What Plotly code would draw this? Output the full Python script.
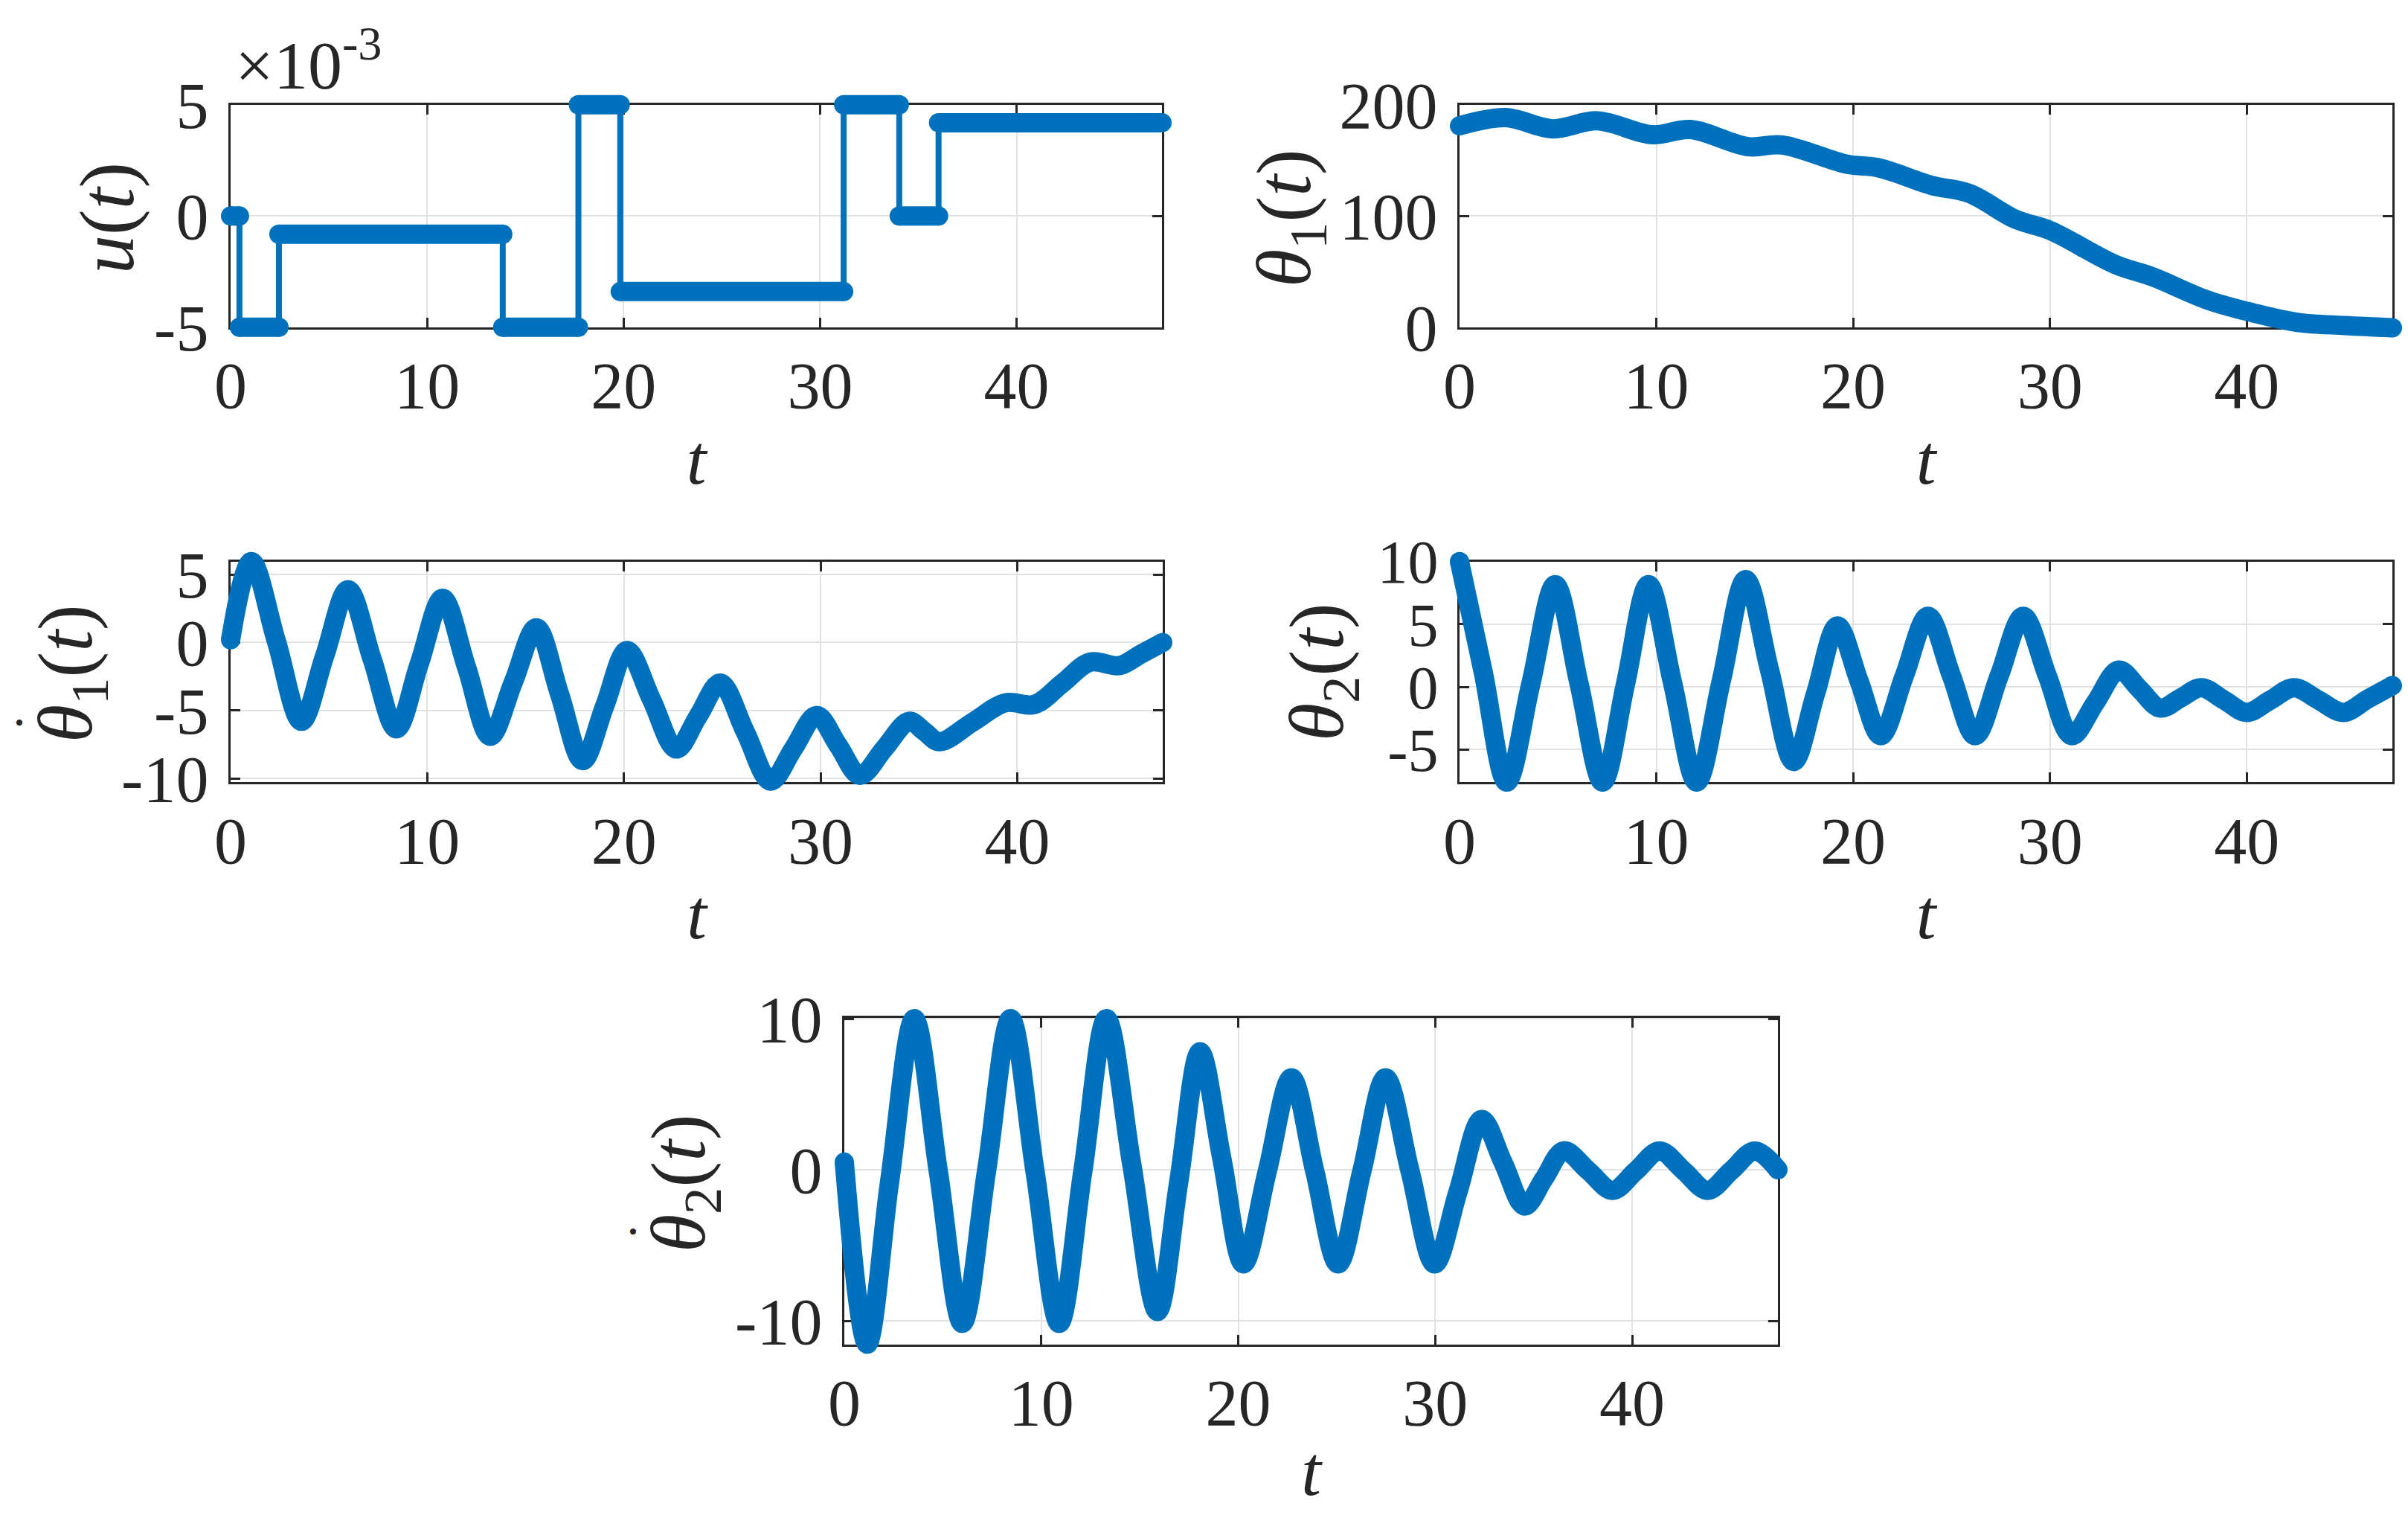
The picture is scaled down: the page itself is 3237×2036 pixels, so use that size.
import plotly.graph_objects as go

W, H = 3237, 2036
BLUE = '#0072BD'
INK = '#262626'
FONT = 'Liberation Serif'
TICK_SIZE = 88
XTITLE_SIZE = 96
YTITLE_SIZE = 104

# ---------------- data ----------------
t_end = 47.4

# u(t): switching times and piecewise-constant levels
u_switch_t = [0.0, 0.45, 2.46, 13.85, 17.7, 19.83, 31.2, 34.03, 36.03, 47.4]
u_level = [0.0, -5.0e-3, -0.82e-3, -5.0e-3, 5.0e-3, -3.4e-3, 5.0e-3, 0.0, 4.19e-3]

# theta_1(t)
th1_t = [0.0, 2.33, 4.74, 7.0, 9.8, 11.74, 14.65, 16.4, 19.7, 21.25, 23.98, 25.9,
         28.25, 30.0, 33.3, 35.25, 37.97, 40.3, 42.6, 45.0, 47.4]
th1_v = [181, 188.4, 178.3, 185.5, 173, 177.7, 162.3, 163.8, 146.4, 143.5, 127.5, 120.3,
         97, 87, 56.5, 45, 24.6, 13, 4.3, 1.5, -0.5]

# theta_1 dot(t)
dth1_t = [0, 1.05, 2.33, 3.6, 4.79, 5.97, 7.2, 8.43, 9.6, 10.78, 12.0, 13.2, 14.38, 15.55,
          16.73, 17.9, 19.03, 20.16, 21.41, 22.66, 23.78, 24.9, 26.18, 27.46, 28.63, 29.8,
          30.9, 32.0, 33.25, 34.5, 35.28, 36.05, 37.73, 39.4, 40.9, 42.3, 43.7, 45.2, 46.3, 47.4]
dth1_v = [0.2, 5.95, 0.08, -5.8, -0.96, 3.88, -1.24, -6.35, -1.55, 3.25, -1.83, -6.9, -2.91, 1.08,
          -3.81, -8.7, -4.65, -0.6, -4.22, -7.84, -5.42, -2.99, -6.6, -10.2, -7.79, -5.37,
          -7.58, -9.78, -7.79, -5.8, -6.55, -7.3, -5.87, -4.44, -4.55, -3.0, -1.45, -1.7, -0.85, 0.0]

# theta_2(t)
th2_t = [0, 1.2, 2.4, 3.63, 4.86, 6.07, 7.27, 8.44, 9.6, 10.83, 12.05, 13.3, 14.54, 15.76,
         16.98, 18.09, 19.2, 20.3, 21.4, 22.6, 23.8, 25.0, 26.2, 27.42, 28.64, 29.87, 31.1,
         32.3, 33.5, 34.55, 35.6, 36.65, 37.7, 38.85, 40.0, 41.2, 42.4, 43.65, 44.9, 46.15, 47.4]
th2_v = [10.0, 1.2, -7.6, 0.28, 8.15, 0.28, -7.6, 0.28, 8.15, 0.28, -7.6, 0.48, 8.55, 1.3,
         -5.96, -0.55, 4.86, 0.48, -3.9, 0.87, 5.63, 0.87, -3.9, 0.87, 5.63, 0.87, -3.9,
         -1.28, 1.34, -0.18, -1.69, -0.88, -0.07, -1.06, -2.04, -1.06, -0.07, -1.06, -2.04, -0.97, 0.1]

# theta_2 dot(t)
dth2_t = [0, 1.16, 2.3, 3.55, 4.77, 5.99, 7.22, 8.44, 9.68, 10.91, 12.11, 13.31, 14.6, 15.9,
          16.98, 18.06, 19.16, 20.26, 21.48, 22.7, 23.88, 25.07, 26.28, 27.48, 28.72, 29.97,
          31.16, 32.36, 33.45, 34.54, 35.53, 36.53, 37.77, 39.0, 40.2, 41.39, 42.61, 43.83,
          45.03, 46.24, 47.4]
dth2_v = [0.5, -11.55, -0.78, 10.0, -0.09, -10.17, -0.09, 10.0, -0.09, -10.17, -0.09, 10.0, 0.31,
          -9.38, -0.79, 7.81, 0.79, -6.23, -0.07, 6.09, -0.07, -6.23, -0.07, 6.09, -0.07, -6.23,
          -1.45, 3.33, 0.47, -2.4, -0.58, 1.25, -0.06, -1.36, -0.06, 1.25, -0.06, -1.36,
          -0.06, 1.25, 0.0]

x_ticks = [0, 10, 20, 30, 40]
x_ticktext = ['0', '10', '20', '30', '40']

# ---------------- layout of panels (pixel boxes) ----------------
panels = [
    dict(box=(302, 1554, 132.7, 431.7), yr=(-0.005, 0.005),
         yt=[-0.005, 0, 0.005], ytt=['-5', '0', '5'], ytsize=TICK_SIZE, xst=17,
         title='<i>u</i>(<i>t</i>)', tpos=(136, 285), dot=None),
    dict(box=(1954, 3208, 132.7, 431.7), yr=(0, 200),
         yt=[0, 100, 200], ytt=['0', '100', '200'], ytsize=TICK_SIZE, xst=17,
         title='<i>θ</i><sub>1</sub>(<i>t</i>)', tpos=(1725, 285), dot=None),
    dict(box=(302, 1555, 746.7, 1043), yr=(-10.27, 5.95),
         yt=[-10, -5, 0, 5], ytt=['-10', '-5', '0', '5'], ytsize=TICK_SIZE, xst=17,
         title='<i>θ</i><sub>1</sub>(<i>t</i>)', tpos=(87, 897), dot=(18, 963)),
    dict(box=(1954, 3208, 746.7, 1043), yr=(-7.6, 10.0),
         yt=[-5, 0, 5, 10], ytt=['-5', '0', '5', '10'], ytsize=82, xst=17,
         title='<i>θ</i><sub>2</sub>(<i>t</i>)', tpos=(1769, 895), dot=None),
    dict(box=(1127, 2382, 1360, 1798.5), yr=(-11.55, 10.05),
         yt=[-10, 0, 10], ytt=['-10', '0', '10'], ytsize=TICK_SIZE, xst=9,
         title='<i>θ</i><sub>2</sub>(<i>t</i>)', tpos=(911, 1582), dot=(843, 1647)),
]
PAD = 24  # px: data area extends beyond the box so thick lines are not cut

fig = go.Figure()
layout = {}
annotations = []


def axname(kind, i):
    return kind + 'axis' + ('' if i == 1 else str(i))


def ref(kind, i):
    return kind + ('' if i == 1 else str(i))


for k, p in enumerate(panels):
    b = 2 * k + 1
    d = 2 * k + 2
    x0, x1, y0, y1 = p['box']
    xr = (0, t_end)
    yr = p['yr']
    dom_x = [x0 / W, x1 / W]
    dom_y = [1 - y1 / H, 1 - y0 / H]
    sx = (xr[1] - xr[0]) / (x1 - x0)
    sy = (yr[1] - yr[0]) / (y1 - y0)
    common = dict(showline=True, mirror='ticks', linecolor=INK, linewidth=3,
                  ticks='inside', ticklen=13, tickwidth=3, tickcolor=INK,
                  showgrid=True, gridcolor='#e2e2e2', gridwidth=2, zeroline=False,
                  fixedrange=True, automargin=False)
    layout[axname('x', b)] = dict(domain=dom_x, range=list(xr), anchor=ref('y', b),
                                  tickvals=x_ticks, ticktext=x_ticktext,
                                  tickfont=dict(family=FONT, size=TICK_SIZE, color=INK),
                                  title=dict(text='<i>t</i>', standoff=p['xst'],
                                             font=dict(family=FONT, size=XTITLE_SIZE, color=INK)),
                                  **common)
    layout[axname('y', b)] = dict(domain=dom_y, range=list(yr), anchor=ref('x', b),
                                  tickvals=p['yt'], ticktext=p['ytt'],
                                  tickfont=dict(family=FONT, size=p['ytsize'], color=INK),
                                  ticklabelstandoff=9,
                                  **common)
    layout[axname('x', d)] = dict(domain=[(x0 - PAD) / W, (x1 + PAD) / W],
                                  range=[xr[0] - PAD * sx, xr[1] + PAD * sx],
                                  anchor=ref('y', d), visible=False, fixedrange=True,
                                  automargin=False)
    layout[axname('y', d)] = dict(domain=[1 - (y1 + PAD) / H, 1 - (y0 - PAD) / H],
                                  range=[yr[0] - PAD * sy, yr[1] + PAD * sy],
                                  anchor=ref('x', d), visible=False, fixedrange=True,
                                  automargin=False)
    # empty placeholder so that the framed subplot is created
    fig.add_trace(go.Scatter(x=[None], y=[None], mode='lines', xaxis=ref('x', b),
                             yaxis=ref('y', b), hoverinfo='skip'))
    # y-axis label (rotated text)
    tx, ty = p['tpos']
    annotations.append(dict(text=p['title'], xref='paper', yref='paper',
                            x=tx / W, y=1 - ty / H, xanchor='center', yanchor='middle',
                            textangle=-90, showarrow=False,
                            font=dict(family=FONT, size=YTITLE_SIZE, color=INK)))
    if p['dot']:
        dx, dy = p['dot']
        annotations.append(dict(text='•', xref='paper', yref='paper',
                                x=dx / W, y=1 - dy / H, xanchor='center', yanchor='middle',
                                showarrow=False,
                                font=dict(family=FONT, size=34, color=INK)))

annotations.append(dict(text='×10<sup>-3</sup>', xref='paper', yref='paper',
                        x=306 / W, y=1 - 133 / H, xanchor='left', yanchor='bottom',
                        showarrow=False,
                        font=dict(family=FONT, size=92, color=INK)))

# ---------------- traces ----------------
# panel 1: u(t) step signal (thin connecting line + thick marker bars)
fig.add_trace(go.Scatter(x=u_switch_t, y=u_level + [u_level[-1]], mode='lines',
                         line=dict(color=BLUE, width=8, shape='hv'),
                         xaxis='x2', yaxis='y2', hoverinfo='skip'))
bar_x, bar_y = [], []
for i, lv in enumerate(u_level):
    bar_x += [u_switch_t[i], u_switch_t[i + 1], None]
    bar_y += [lv, lv, None]
fig.add_trace(go.Scatter(x=bar_x, y=bar_y, mode='lines+markers',
                         line=dict(color=BLUE, width=26),
                         marker=dict(color=BLUE, size=26, line=dict(width=0)),
                         xaxis='x2', yaxis='y2', hoverinfo='skip'))

curves = [(th1_t, th1_v, 4), (dth1_t, dth1_v, 6), (th2_t, th2_v, 8), (dth2_t, dth2_v, 10)]
for tt, vv, d in curves:
    fig.add_trace(go.Scatter(x=tt, y=vv, mode='lines',
                             line=dict(color=BLUE, width=26, shape='spline', smoothing=1.0),
                             xaxis=ref('x', d), yaxis=ref('y', d), hoverinfo='skip'))
    fig.add_trace(go.Scatter(x=[tt[0], tt[-1]], y=[vv[0], vv[-1]], mode='markers',
                             marker=dict(color=BLUE, size=26, line=dict(width=0)),
                             xaxis=ref('x', d), yaxis=ref('y', d), hoverinfo='skip'))

fig.update_layout(
    width=W, height=H,
    margin=dict(l=0, r=0, t=0, b=0, autoexpand=False),
    paper_bgcolor='white', plot_bgcolor='rgba(0,0,0,0)',
    showlegend=False,
    font=dict(family=FONT, color=INK),
    annotations=annotations,
    **layout,
)

fig.write_html('out.html')
